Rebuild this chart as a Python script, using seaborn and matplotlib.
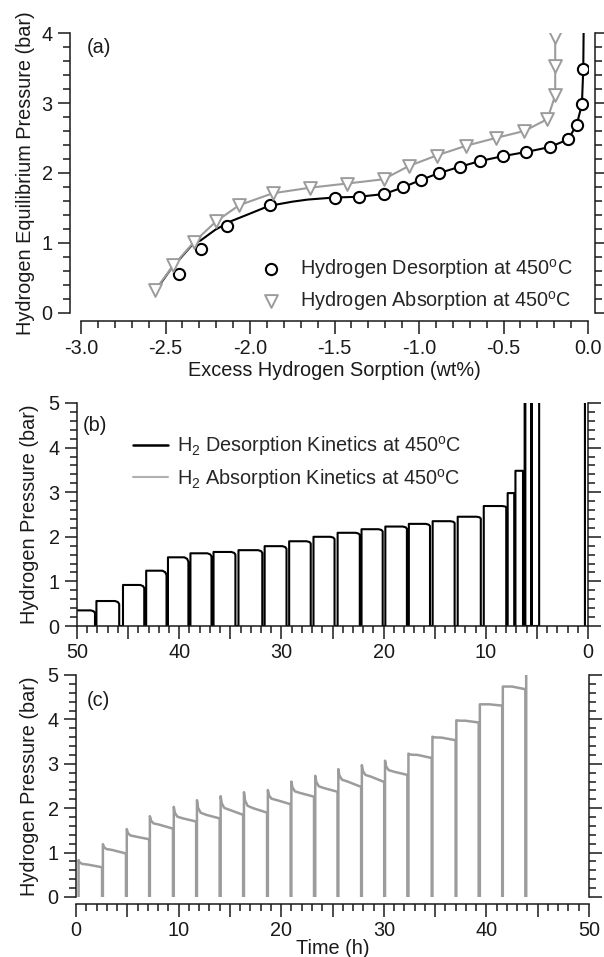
import numpy as np
import pandas as pd
import matplotlib
matplotlib.use("Agg")
import matplotlib.pyplot as plt
import seaborn as sns
from matplotlib.ticker import MultipleLocator, FuncFormatter

# ---------------- data: panel (a) PCT isotherms ----------------
des_x = [-2.42, -2.29, -2.136, -1.88, -1.50, -1.357, -1.205, -1.095, -0.99, -0.88,
         -0.757, -0.64, -0.505, -0.367, -0.227, -0.117, -0.067, -0.036, -0.028]
des_p = [0.56, 0.92, 1.24, 1.54, 1.65, 1.66, 1.70, 1.795, 1.90, 2.00,
         2.09, 2.17, 2.24, 2.30, 2.37, 2.48, 2.69, 2.98, 3.49]
# smooth desorption fit line
fit_x = [-2.535, -2.45, -2.42, -2.34, -2.29, -2.205, -2.114, -2.0, -1.888, -1.75, -1.66,
         -1.50, -1.357, -1.205, -1.095, -0.99, -0.88, -0.757, -0.64, -0.505, -0.367,
         -0.227, -0.117, -0.067, -0.036, -0.028, -0.026]
fit_p = [0.40, 0.69, 0.76, 0.98, 1.04, 1.19, 1.31, 1.42, 1.53, 1.59, 1.62,
         1.65, 1.66, 1.70, 1.795, 1.90, 2.00, 2.09, 2.17, 2.24, 2.30,
         2.37, 2.48, 2.69, 2.98, 3.49, 4.0]
abs_x = [-2.56, -2.453, -2.333, -2.20, -2.064, -1.866, -1.645, -1.425, -1.21, -1.06,
         -0.896, -0.72, -0.546, -0.377, -0.24, -0.194, -0.194, -0.194]
abs_p = [0.33, 0.68, 1.01, 1.31, 1.54, 1.71, 1.79, 1.85, 1.91, 2.10,
         2.25, 2.39, 2.50, 2.60, 2.77, 3.11, 3.53, 3.94]

# ---------------- data: panel (b) desorption kinetics ----------------
dk_start = [0.30, 5.49, 6.13, 6.36, 7.22, 8.00, 10.49, 13.05, 15.46, 17.72, 20.09, 22.33,
            24.80, 27.13, 29.50, 31.87, 34.50, 36.84, 39.10, 41.24, 43.42, 45.87, 48.24]
dk_end = [4.78, 5.57, 6.20, 7.10, 7.86, 10.20, 12.75, 15.20, 17.53, 19.83, 22.16, 24.50,
          26.86, 29.24, 31.64, 34.20, 36.64, 38.90, 41.10, 43.23, 45.50, 48.10, 51.0]
dk_level = [8.0, 8.0, 8.0, 3.48, 2.98, 2.69, 2.45, 2.35, 2.29, 2.23, 2.17, 2.09,
            2.00, 1.90, 1.79, 1.70, 1.66, 1.63, 1.54, 1.24, 0.92, 0.56, 0.35]
dk_dip = [0.0, 0.0, 0.0, 0.0, 0.0, 0.03, 0.04, 0.04, 0.05, 0.05, 0.05, 0.05,
          0.05, 0.05, 0.06, 0.06, 0.06, 0.07, 0.10, 0.10, 0.07, 0.07, 0.06]

# ---------------- data: panel (c) absorption kinetics ----------------
ak_start = [0.25, 2.62, 4.95, 7.20, 9.53, 11.79, 14.10, 16.37, 18.70, 20.99,
            23.32, 25.57, 27.86, 30.12, 32.40, 34.74, 37.07, 39.36, 41.60]
ak_end = [2.54, 4.87, 7.13, 9.45, 11.71, 14.00, 16.29, 18.62, 20.92, 23.20,
          25.49, 27.79, 30.04, 32.30, 34.67, 37.00, 39.25, 41.54, 43.80]
ak_peak = [0.83, 1.19, 1.53, 1.82, 2.03, 2.18, 2.27, 2.36, 2.41, 2.60,
           2.73, 2.88, 2.97, 3.07, 3.23, 3.61, 3.98, 4.34, 4.74]
ak_plateau = [0.73, 1.06, 1.36, 1.63, 1.77, 1.85, 1.96, 2.00, 2.18, 2.34,
              2.45, 2.60, 2.71, 2.82, 3.20, 3.59, 3.97, 4.34, 4.74]
ak_final = [0.67, 0.98, 1.30, 1.54, 1.70, 1.77, 1.85, 1.90, 2.09, 2.26,
            2.37, 2.48, 2.59, 2.75, 3.13, 3.53, 3.93, 4.31, 4.68]
ak_last_t, ak_last_p = 43.88, 5.0

# ---------------- style ----------------
sns.set_theme(style="ticks")
plt.rcParams["font.family"] = ["Liberation Sans", "DejaVu Sans"]
plt.rcParams["mathtext.fontset"] = "custom"
plt.rcParams["mathtext.rm"] = "Liberation Sans"
plt.rcParams["mathtext.it"] = "Liberation Sans:italic"
plt.rcParams["axes.unicode_minus"] = False
FS = 14.3
INK = "#1a1a1a"
GRAY = "#9c9c9c"

fig = plt.figure(figsize=(6.04, 9.57), dpi=100)
W, H = 604.0, 957.0


def add_ax(l, r, t, b):
    return fig.add_axes([l / W, (H - b) / H, (r - l) / W, (b - t) / H])


axA = add_ax(81, 588, 33, 313)
axB = add_ax(77, 588, 403, 626)
axC = add_ax(76, 589, 675, 897)


def style_axis(ax):
    ax.spines["top"].set_visible(False)
    for s in ("left", "right", "bottom"):
        ax.spines[s].set_linewidth(1.1)
        ax.spines[s].set_color(INK)
    ax.tick_params(which="both", direction="out", width=1.1, color=INK,
                   labelsize=FS, labelcolor=INK, right=True, labelright=False,
                   top=False)
    ax.tick_params(which="major", length=9, pad=3.5)
    ax.tick_params(which="minor", length=4.8)
    ax.patch.set_alpha(0)


# ---------------- panel (a) ----------------
sns.lineplot(x=fit_x, y=fit_p, sort=False, estimator=None, color="black",
             lw=1.5, ax=axA)
sns.lineplot(x=abs_x, y=abs_p, sort=False, estimator=None, color=GRAY,
             lw=1.5, ax=axA)
sns.scatterplot(x=des_x, y=des_p, marker="o", s=65, color="black",
                facecolor="white", edgecolor="black", linewidth=1.5,
                label=r"Hydrogen Desorption at 450$^{\mathrm{o}}$C", ax=axA, zorder=5)
sns.scatterplot(x=abs_x, y=abs_p, marker="v", s=85, color=GRAY,
                facecolor="white", edgecolor=GRAY, linewidth=1.4,
                label=r"Hydrogen Absorption at 450$^{\mathrm{o}}$C", ax=axA, zorder=5)
axA.set_xlim(-3.0, 0.0)
axA.set_ylim(0, 4)
style_axis(axA)
axA.spines["left"].set_position(("outward", 8))
axA.spines["bottom"].set_position(("outward", 6))
axA.spines["right"].set_position(("outward", 5))
axA.xaxis.set_major_locator(MultipleLocator(0.5))
axA.xaxis.set_minor_locator(MultipleLocator(0.1))
axA.xaxis.set_major_formatter(FuncFormatter(lambda v, p: f"{v:.1f}"))
axA.yaxis.set_major_locator(MultipleLocator(1))
axA.yaxis.set_minor_locator(MultipleLocator(0.2))
axA.set_xlabel("Excess Hydrogen Sorption (wt%)", fontsize=FS, color=INK)
axA.set_ylabel("Hydrogen Equilibrium Pressure (bar)", fontsize=FS, color=INK)
axA.yaxis.set_label_coords(-0.091, 0.5)
axA.xaxis.set_label_coords(0.5, -0.17)
axA.text(0.012, 0.95, "(a)", transform=axA.transAxes, fontsize=FS, color=INK,
         ha="left", va="center")
axA.legend(loc="upper left", bbox_to_anchor=(0.355, 0.2), frameon=False,
           fontsize=FS, handlelength=1.0, handletextpad=0.95, labelspacing=0.4,
           borderpad=0, borderaxespad=0, scatterpoints=1)

# ---------------- panel (b) ----------------
tb, pb = [], []
for s, e, L, d in zip(dk_start, dk_end, dk_level, dk_dip):
    tb += [s, s, s + 0.12, s + 0.4, e, e]
    pb += [0, L - d, L - 0.35 * d, L, L, 0]
sns.lineplot(x=tb, y=pb, sort=False, estimator=None, color="black", lw=1.5, ax=axB)
axB.plot([], [], color="black", lw=1.8,
         label=r"H$_2$ Desorption Kinetics at 450$^{\mathrm{o}}$C")
axB.plot([], [], color="#b0b0b0", lw=1.5,
         label=r"H$_2$ Absorption Kinetics at 450$^{\mathrm{o}}$C")
axB.set_xlim(50, 0)
axB.set_ylim(0, 5)
style_axis(axB)
axB.xaxis.set_major_locator(MultipleLocator(5))
axB.xaxis.set_minor_locator(MultipleLocator(1))
axB.xaxis.set_major_formatter(FuncFormatter(lambda v, p: f"{v:.0f}" if round(v) % 10 == 0 else ""))
axB.yaxis.set_major_locator(MultipleLocator(1))
axB.yaxis.set_minor_locator(MultipleLocator(0.2))
axB.set_ylabel("Hydrogen Pressure (bar)", fontsize=FS, color=INK)
axB.yaxis.set_label_coords(-0.074, 0.5)
axB.set_xlabel("")
axB.text(0.012, 0.90, "(b)", transform=axB.transAxes, fontsize=FS, color=INK,
         ha="left", va="center")
axB.legend(loc="upper left", bbox_to_anchor=(0.11, 0.86), frameon=False,
           fontsize=FS, handlelength=1.75, handletextpad=0.45, labelspacing=0.42,
           borderpad=0, borderaxespad=0)

# ---------------- panel (c) ----------------
tc, pc = [], []
for s, e, pk, pl, fi in zip(ak_start, ak_end, ak_peak, ak_plateau, ak_final):
    tc += [s, s, s + 0.1, s + 0.35, s + 0.9, e, e]
    pc += [0, pk, pl + 0.5 * (pk - pl), pl + 0.15 * (pk - pl), pl, fi, 0]
tc += [ak_last_t, ak_last_t]
pc += [0, ak_last_p]
sns.lineplot(x=tc, y=pc, sort=False, estimator=None, color=GRAY, lw=1.8, ax=axC)
axC.set_xlim(0, 50)
axC.set_ylim(0, 5)
style_axis(axC)
axC.spines["bottom"].set_position(("outward", 5))
axC.xaxis.set_major_locator(MultipleLocator(5))
axC.xaxis.set_minor_locator(MultipleLocator(1))
axC.xaxis.set_major_formatter(FuncFormatter(lambda v, p: f"{v:.0f}" if round(v) % 10 == 0 else ""))
axC.yaxis.set_major_locator(MultipleLocator(1))
axC.yaxis.set_minor_locator(MultipleLocator(0.2))
axC.set_ylabel("Hydrogen Pressure (bar)", fontsize=FS, color=INK)
axC.yaxis.set_label_coords(-0.072, 0.5)
axC.set_xlabel("Time (h)", fontsize=FS, color=INK)
axC.xaxis.set_label_coords(0.5, -0.19)
axC.text(0.02, 0.887, "(c)", transform=axC.transAxes, fontsize=FS, color=INK,
         ha="left", va="center")

fig.savefig("out.png", dpi=100)
